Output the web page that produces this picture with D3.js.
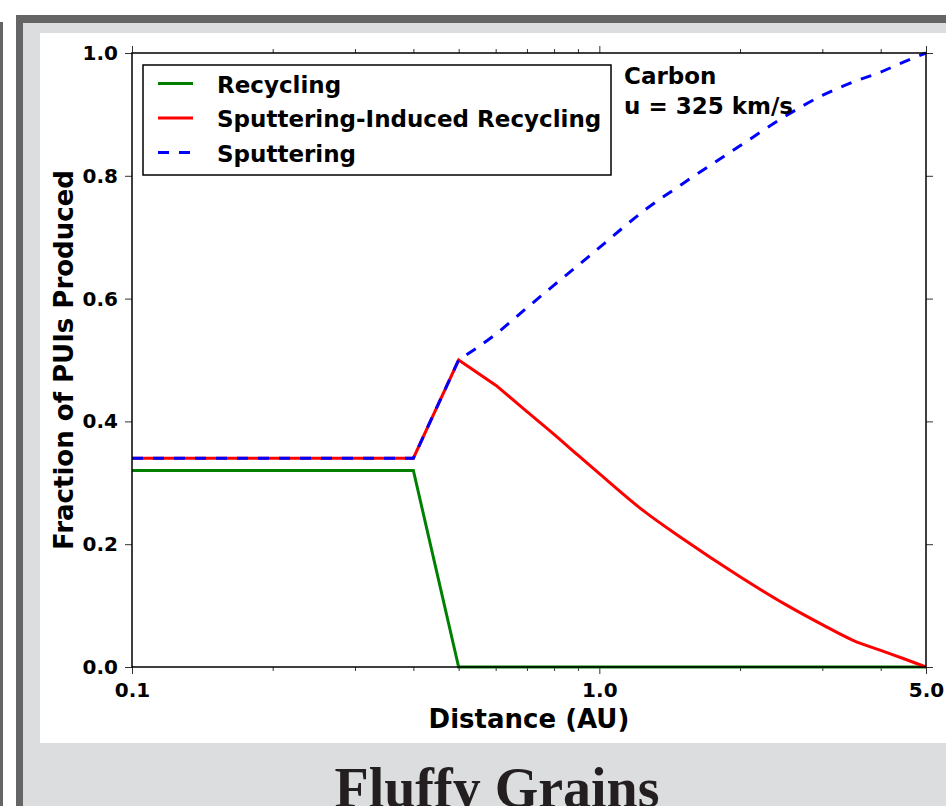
<!DOCTYPE html>
<html>
<head>
<meta charset="utf-8">
<script src="https://cdn.jsdelivr.net/npm/d3@7"></script>
<style>
  body { margin: 0; background: #fff; overflow: hidden; }
  .chart text { font-family: "DejaVu Sans", sans-serif; font-weight: bold; fill: #000; }
</style>
</head>
<body>
<script>

// values
const distance = [0.1, 0.4, 0.5, 0.6, 0.7, 0.8, 0.9, 1.0, 1.25, 1.5, 2.0, 2.5, 3.0, 3.5, 4.0, 4.5, 5.0];
const sputtering = [0.34, 0.34, 0.5, 0.542, 0.585, 0.622, 0.654, 0.683, 0.744, 0.786, 0.849, 0.897, 0.931, 0.953, 0.969, 0.986, 1.0];
const sputterInduced = [0.34, 0.34, 0.5, 0.459, 0.416, 0.379, 0.345, 0.315, 0.253, 0.21, 0.147, 0.102, 0.069, 0.043, 0.027, 0.013, 0.0];
const recyclingDist = [0.1, 0.4, 0.5, 5.0];
const recycling = [0.32, 0.32, 0.0, 0.0];

const xMajor = [0.1, 1.0, 5.0];
const xMinor = [0.2, 0.3, 0.4, 0.5, 0.6, 0.7, 0.8, 0.9, 2, 3, 4];
const yTicks = [0, 0.2, 0.4, 0.6, 0.8, 1.0];

const legendItems = [
  { name: 'Recycling', color: '#008000', dash: null },
  { name: 'Sputtering-Induced Recycling', color: '#ff0000', dash: null },
  { name: 'Sputtering', color: '#0000ff', dash: '11,10' }
];

let width = 946;
let height = 806;

let svg = d3.select('body').append('svg')
            .attr('width', width)
            .attr('height', height);

// page frame around the figure
svg.append('rect').attr('x', 0).attr('y', 22).attr('width', 3).attr('height', height).attr('fill', '#656565');
svg.append('rect').attr('x', 16).attr('y', 15).attr('width', width).attr('height', height).attr('fill', '#656565');
svg.append('rect').attr('x', 23).attr('y', 23).attr('width', width).attr('height', height).attr('fill', '#dcdddf');
svg.append('rect').attr('x', 40).attr('y', 33).attr('width', width).attr('height', 710).attr('fill', '#ffffff');

// caption below the figure, cut by the window edge as in the screenshot
svg.append('text')
   .attr('x', 497).attr('y', 807)
   .attr('text-anchor', 'middle')
   .style('font-family', '"Liberation Serif", "DejaVu Serif", serif')
   .style('font-weight', 'bold')
   .style('font-size', '56px')
   .attr('fill', '#231f20')
   .text('Fluffy Grains');

let chart = svg.append('g').attr('class', 'chart');

let x = d3.scaleLog()
          .domain([0.1, 5.0])
          .range([132, 926]);
let y = d3.scaleLinear()
          .domain([0, 1])
          .range([667, 53]);

let fmt = d3.format('.1f');

// bottom / top axes
chart.append('g').attr('transform', 'translate(0,667)')
     .call(d3.axisBottom(x).tickValues(xMajor).tickFormat(fmt).tickSize(7).tickPadding(9))
     .call(g => g.select('.domain').remove());
chart.append('g').attr('transform', 'translate(0,667)')
     .call(d3.axisBottom(x).tickValues(xMinor).tickFormat('').tickSize(4))
     .call(g => g.select('.domain').remove());
chart.append('g').attr('transform', 'translate(0,53)')
     .call(d3.axisTop(x).tickValues(xMajor).tickFormat('').tickSize(7))
     .call(g => g.select('.domain').remove());
chart.append('g').attr('transform', 'translate(0,53)')
     .call(d3.axisTop(x).tickValues(xMinor).tickFormat('').tickSize(4))
     .call(g => g.select('.domain').remove());

// left / right axes
chart.append('g').attr('transform', 'translate(132,0)')
     .call(d3.axisLeft(y).tickValues(yTicks).tickFormat(fmt).tickSize(7).tickPadding(7))
     .call(g => g.select('.domain').remove());
chart.append('g').attr('transform', 'translate(926,0)')
     .call(d3.axisRight(y).tickValues(yTicks).tickFormat('').tickSize(7))
     .call(g => g.select('.domain').remove());

chart.selectAll('.tick text').style('font-size', '20px').style('font-family', '"DejaVu Sans"').style('font-weight', 'bold');
chart.selectAll('.tick line').attr('stroke', '#333').attr('stroke-width', 1);

let line = d3.line()
             .x((d) => { return x(d[0]); })
             .y((d) => { return y(d[1]); });
let smooth = d3.line()
               .x((d) => { return x(d[0]); })
               .y((d) => { return y(d[1]); })
               .curve(d3.curveMonotoneX);

// straight pieces up to the break, smooth curve after it, joined in one path
let joined = (pts, breakAt) => {
  let head = pts.filter((d) => { return d[0] <= breakAt; });
  let tail = pts.filter((d) => { return d[0] >= breakAt; });
  return line(head) + smooth(tail).replace(/^M/, 'L');
};

let recyclingPts = recyclingDist.map((d, i) => [d, recycling[i]]);
let inducedPts = distance.map((d, i) => [d, sputterInduced[i]]);
let sputterPts = distance.map((d, i) => [d, sputtering[i]]);

chart.append('path').attr('d', line(recyclingPts))
     .attr('fill', 'none').attr('stroke', '#008000').attr('stroke-width', 3);
chart.append('path').attr('d', joined(inducedPts, 0.6))
     .attr('fill', 'none').attr('stroke', '#ff0000').attr('stroke-width', 3);
chart.append('path').attr('d', joined(sputterPts, 0.5))
     .attr('fill', 'none').attr('stroke', '#0000ff').attr('stroke-width', 3)
     .attr('stroke-dasharray', '11,10');

// axes frame
chart.append('rect')
     .attr('x', x(0.1)).attr('y', y(1))
     .attr('width', x(5.0) - x(0.1)).attr('height', y(0) - y(1))
     .attr('fill', 'none').attr('stroke', '#000').attr('stroke-width', 1.5);

// legend
let legend = chart.append('g');
legend.append('rect')
      .attr('x', 143).attr('y', 65).attr('width', 468).attr('height', 110)
      .attr('fill', '#fff').attr('stroke', '#000').attr('stroke-width', 1.5);
legend.selectAll('g.item')
      .data(legendItems)
      .enter()
      .append('g')
      .attr('class', 'item')
      .attr('transform', (d, i) => { return 'translate(0,' + (83.5 + i * 34.5) + ')'; })
      .each(function(d) {
        let g = d3.select(this);
        g.append('line').attr('x1', 158).attr('x2', 193)
         .attr('stroke', d.color).attr('stroke-width', 3)
         .attr('stroke-dasharray', d.dash);
        g.append('text').attr('x', 217).attr('y', 9)
         .style('font-size', '23px').text(d.name);
      });

// annotation
chart.append('text').attr('x', 624).attr('y', 84).style('font-size', '23px').text('Carbon');
chart.append('text').attr('x', 624).attr('y', 114).style('font-size', '23px').text('u = 325 km/s');

// axis titles
chart.append('text')
     .attr('x', 529).attr('y', 728)
     .attr('text-anchor', 'middle')
     .style('font-size', '26px')
     .text('Distance (AU)');
chart.append('text')
     .attr('transform', 'translate(73,360) rotate(-90)')
     .attr('text-anchor', 'middle')
     .style('font-size', '26px')
     .text('Fraction of PUIs Produced');

</script>
</body>
</html>
